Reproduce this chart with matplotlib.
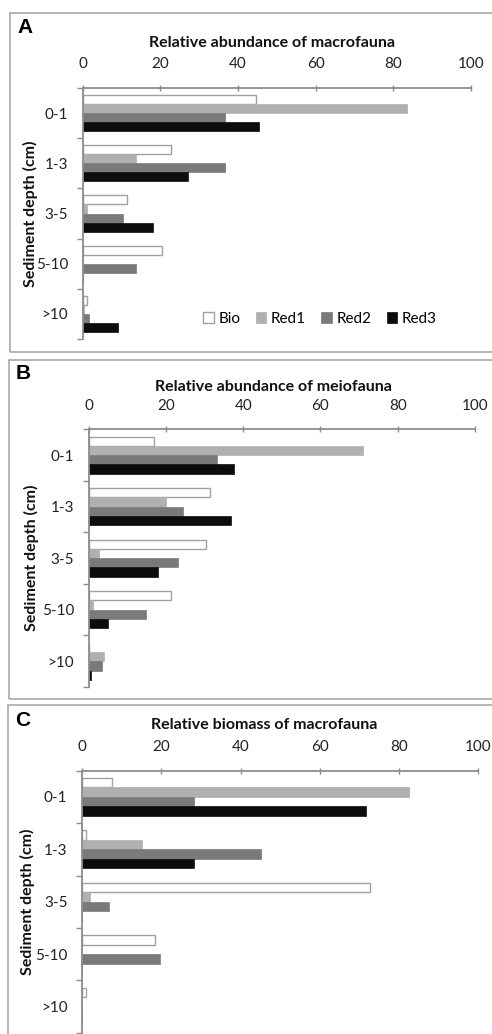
import numpy as np
import matplotlib
matplotlib.use("Agg")
import matplotlib.pyplot as plt
from matplotlib.patches import Rectangle

plt.rcParams["font.family"] = ["Lato", "DejaVu Sans"]

# dati (percentuali)
depths = ["0-1", "1-3", "3-5", "5-10", ">10"]
series = ["Bio", "Red1", "Red2", "Red3"]

macro_abund = {
    "Bio":  [44.6, 22.7, 11.3, 20.3, 1.0],
    "Red1": [83.6, 13.7, 1.2, 0.0, 0.4],
    "Red2": [36.7, 36.7, 10.3, 13.8, 1.6],
    "Red3": [45.3, 27.0, 18.0, 0.0, 9.0],
}
meio_abund = {
    "Bio":  [16.9, 31.4, 30.4, 21.2, 0.0],
    "Red1": [71.1, 19.9, 2.7, 1.0, 3.9],
    "Red2": [33.1, 24.5, 23.0, 14.8, 3.4],
    "Red3": [37.6, 36.8, 18.0, 5.1, 0.6],
}
macro_biomass = {
    "Bio":  [7.6, 1.0, 72.7, 18.4, 1.0],
    "Red1": [82.6, 15.2, 2.0, 0.0, 0.0],
    "Red2": [28.3, 45.2, 6.8, 19.7, 0.0],
    "Red3": [71.6, 28.3, 0.0, 0.0, 0.0],
}
titles = ["Relative abundance of macrofauna", "Relative abundance of meiofauna",
          "Relative biomass of macrofauna"]
letters = ["A", "B", "C"]
xticks = [0, 20, 40, 60, 80, 100]

colors = {"Bio": "white", "Red1": "#b0b0b0", "Red2": "#7a7a7a", "Red3": "#0c0c0c"}
edges = {"Bio": "#a0a0a0", "Red1": "#b0b0b0", "Red2": "#7a7a7a", "Red3": "#0c0c0c"}

W, H = 492, 1034
fig = plt.figure(figsize=(W / 100, H / 100), dpi=100)

def fx(px): return px / W
def fy(py): return 1 - py / H

# posizioni in pixel: (left, right, top, bottom) degli assi
ax_px = [(82.7, 471, 88, 339), (88.7, 475, 429.3, 687), (82, 478.3, 770.7, 1032.7)]
box_px = [(10, 13.3, 352), (9, 360, 699), (7.5, 705, 1040)]
title_px = [(272, 43), (273, 387), (264, 725)]
letter_px = [(25, 27.5), (23.5, 373.5), (22.5, 720)]
ylab_x = [30.5, 31, 27]

GRAY = "#8c8c8c"
bh = 0.18
offs = [-0.27, -0.09, 0.09, 0.27]
ypos = np.arange(len(depths))

for k, data in enumerate([macro_abund, meio_abund, macro_biomass]):
    l, r, t, b = ax_px[k]
    ax = fig.add_axes([fx(l), fy(b), fx(r - l), (b - t) / H])
    for s, off in zip(series, offs):
        ax.barh(ypos + off, data[s], height=bh, color=colors[s], edgecolor=edges[s],
                linewidth=1.0 if s == "Bio" else 0.5, label=s)
    ax.set_xlim(0, 100)
    ax.set_ylim(len(depths) - 0.5, -0.5)
    ax.xaxis.tick_top()
    ax.set_xticks(xticks)
    ax.tick_params(axis="x", direction="inout", length=4, width=1, color=GRAY,
                   pad=10, labelsize=11, labelcolor="#222222")
    ax.set_yticks(ypos)
    ax.set_yticklabels(depths)
    ax.tick_params(axis="y", length=0, pad=10.5, labelsize=11, labelcolor="#222222")
    ax.set_yticks(np.arange(-0.5, len(depths)), minor=True)
    ax.tick_params(axis="y", which="minor", direction="out", length=4, width=1, color=GRAY)
    for sp in ["right", "bottom"]:
        ax.spines[sp].set_visible(False)
    for sp in ["left", "top"]:
        ax.spines[sp].set_color(GRAY)
        ax.spines[sp].set_linewidth(1.3)
    ax.set_facecolor("none")

    if k == 0:
        ax.legend(loc="center", bbox_to_anchor=(fx(320), fy(319)),
                  bbox_transform=fig.transFigure, ncol=4, frameon=False,
                  fontsize=11, handlelength=0.7, handleheight=0.7,
                  handletextpad=0.3, columnspacing=1.0, borderpad=0)

    fig.text(fx(title_px[k][0]), fy(title_px[k][1]), titles[k], ha="center", va="center",
             fontsize=11.5, fontweight="bold", color="#111111")
    fig.text(fx(letter_px[k][0]), fy(letter_px[k][1]), letters[k], ha="center", va="center",
             fontsize=15, fontweight="bold", family="Liberation Sans")
    yc = (t + b) / 2
    fig.text(fx(ylab_x[k]), fy(yc), "Sediment depth (cm)", rotation=90, ha="center",
             va="center", fontsize=11.5, fontweight="bold", color="#111111")

    bl, bt, bb = box_px[k]
    fig.patches.append(Rectangle((fx(bl), fy(bb)), fx(W + 20 - bl), (bb - bt) / H,
                                 transform=fig.transFigure, fill=False,
                                 edgecolor="#a8a8a8", linewidth=1.2))

fig.savefig("out.png", dpi=100)
